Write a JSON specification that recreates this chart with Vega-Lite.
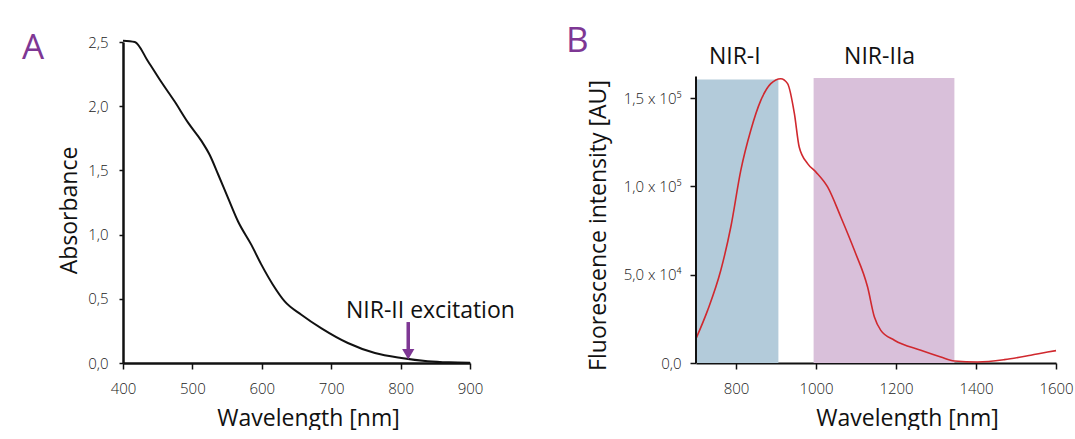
{
  "$schema": "https://vega.github.io/schema/vega-lite/v6.json",
  "padding": {"left": 22, "top": 24, "right": 0, "bottom": 0},
  "background": "white",
  "config": {
    "font": "Open Sans",
    "view": {"stroke": null},
    "axis": {"grid": false, "domainColor": "#111111", "tickColor": "#111111", "labelColor": "#222222", "titleColor": "#111111", "labelFont": "Open Sans", "titleFont": "Open Sans", "labelFontSize": 15, "titleFontSize": 23, "titleFontWeight": "normal", "labelFontWeight": 300}
  },
  "datasets": {
    "absorbance": [
      {"wl": 400, "abs": 2.51}, {"wl": 417, "abs": 2.5}, {"wl": 436, "abs": 2.35}, {"wl": 455, "abs": 2.19},
      {"wl": 474, "abs": 2.04}, {"wl": 494, "abs": 1.87}, {"wl": 513, "abs": 1.73}, {"wl": 525, "abs": 1.62},
      {"wl": 537, "abs": 1.47}, {"wl": 551, "abs": 1.29}, {"wl": 566, "abs": 1.1}, {"wl": 585, "abs": 0.92},
      {"wl": 599, "abs": 0.77}, {"wl": 616, "abs": 0.61}, {"wl": 633, "abs": 0.48}, {"wl": 657, "abs": 0.376},
      {"wl": 686, "abs": 0.27}, {"wl": 724, "abs": 0.156}, {"wl": 763, "abs": 0.078}, {"wl": 801, "abs": 0.039},
      {"wl": 839, "abs": 0.014}, {"wl": 870, "abs": 0.005}, {"wl": 900, "abs": 0.002}
    ],
    "arrowLine": [{"wl": 811, "abs": 0.319, "abs2": 0.1}],
    "arrowHead": [{"wl": 811, "abs": 0.068}],
    "noteA": [{"wl": 843, "abs": 0.353, "label": "NIR-II excitation"}],
    "fluor": [
      {"wl": 700, "val": 13800}, {"wl": 729, "val": 29800}, {"wl": 762, "val": 52500}, {"wl": 787, "val": 77000},
      {"wl": 812, "val": 109100}, {"wl": 837, "val": 131800}, {"wl": 862, "val": 148700}, {"wl": 887, "val": 158200},
      {"wl": 912, "val": 161000}, {"wl": 929, "val": 158200}, {"wl": 946, "val": 141200}, {"wl": 958, "val": 122300},
      {"wl": 979, "val": 112900}, {"wl": 1000, "val": 108100}, {"wl": 1029, "val": 99700}, {"wl": 1062, "val": 82700},
      {"wl": 1096, "val": 63800}, {"wl": 1129, "val": 43000}, {"wl": 1146, "val": 26000}, {"wl": 1162, "val": 18500},
      {"wl": 1196, "val": 12900}, {"wl": 1262, "val": 7200}, {"wl": 1312, "val": 3400}, {"wl": 1346, "val": 1100},
      {"wl": 1404, "val": 600}, {"wl": 1471, "val": 1900}, {"wl": 1537, "val": 4400}, {"wl": 1579, "val": 6200},
      {"wl": 1600, "val": 7000}
    ],
    "bands": [
      {"region": "NIR-I", "wl": 700, "wl2": 906, "val": 160600},
      {"region": "NIR-IIa", "wl": 994, "wl2": 1346, "val": 161400}
    ],
    "bandLabels": [
      {"region": "NIR-I", "wl": 797, "val": 169500},
      {"region": "NIR-IIa", "wl": 1159, "val": 169500}
    ],
    "yAxisLine": [{"wl": 700, "val": 0, "val2": 162300}]
  },
  "bounds": "flush",
  "spacing": 226,
  "hconcat": [
    {
      "width": 347,
      "height": 321,
      "title": {"text": "A", "anchor": "start", "frame": "group", "dx": -101, "fontSize": 35, "fontWeight": "normal", "font": "Open Sans", "color": "#7E3794", "baseline": "alphabetic", "offset": 0, "dy": 59},
      "encoding": {
        "x": {"field": "wl", "type": "quantitative", "scale": {"domain": [400, 900], "nice": false, "zero": false},
          "axis": {"title": "Wavelength [nm]", "values": [400, 500, 600, 700, 800, 900], "format": "d", "tickSize": 6, "tickWidth": 1.5, "domainWidth": 2.5, "labelPadding": 12, "labelFlush": false, "labelOverlap": false, "titleX": 185, "titlePadding": 11}},
        "y": {"field": "abs", "type": "quantitative", "scale": {"domain": [0, 2.5], "nice": false},
          "axis": {"title": "Absorbance", "values": [0, 0.5, 1, 1.5, 2, 2.5], "tickSize": 4, "tickWidth": 1.5, "domainWidth": 2.5, "labelPadding": 11, "labelExpr": "replace(format(datum.value, '.1f'), '.', ',')", "titleY": 168, "titlePadding": 6}}
      },
      "layer": [
        {"data": {"name": "absorbance"}, "mark": {"type": "line", "color": "#111111", "strokeWidth": 2, "interpolate": "monotone"}},
        {"data": {"name": "arrowLine"}, "mark": {"type": "rule", "color": "#7E3794", "strokeWidth": 3.5}, "encoding": {"y2": {"field": "abs2"}}},
        {"data": {"name": "arrowHead"}, "mark": {"type": "point", "shape": "triangle-down", "filled": true, "size": 150, "color": "#7E3794", "opacity": 1}},
        {"data": {"name": "noteA"}, "mark": {"type": "text", "fontSize": 23, "font": "Open Sans", "color": "#111111", "align": "center", "baseline": "alphabetic"}, "encoding": {"text": {"field": "label"}}}
      ]
    },
    {
      "width": 360,
      "height": 321,
      "title": {"text": "B", "anchor": "start", "frame": "group", "dx": -130, "fontSize": 35, "fontWeight": "normal", "font": "Open Sans", "color": "#7E3794", "baseline": "alphabetic", "offset": 0, "dy": 45},
      "encoding": {
        "x": {"field": "wl", "type": "quantitative", "scale": {"domain": [700, 1600], "nice": false, "zero": false},
          "axis": {"title": "Wavelength [nm]", "values": [800, 1000, 1200, 1400, 1600], "format": "d", "tickSize": 6, "tickWidth": 1.5, "domainWidth": 2, "labelPadding": 12, "labelFlush": false, "labelOverlap": false, "titleX": 211, "titlePadding": 11}},
        "y": {"field": "val", "type": "quantitative", "scale": {"domain": [0, 181770], "nice": false},
          "axis": {"title": "Fluorescence intensity [AU]", "values": [0, 50000, 100000, 150000], "domain": false, "tickSize": 6, "tickWidth": 1.5, "labelPadding": 9, "labelExpr": "datum.value == 0 ? '0,0' : datum.value == 50000 ? '5,0 x 10⁴' : datum.value == 100000 ? '1,0 x 10⁵' : '1,5 x 10⁵'", "titleY": 183, "titlePadding": 13}}
      },
      "layer": [
        {"data": {"name": "bands"}, "mark": {"type": "rect", "opacity": 1},
          "encoding": {"x2": {"field": "wl2"}, "y2": {"datum": 0},
            "color": {"field": "region", "type": "nominal", "scale": {"domain": ["NIR-I", "NIR-IIa"], "range": ["#B3CBDA", "#D9C0DA"]}, "legend": null}}},
        {"data": {"name": "fluor"}, "mark": {"type": "line", "color": "#D0282E", "strokeWidth": 1.6, "interpolate": "monotone"}},
        {"data": {"name": "yAxisLine"}, "mark": {"type": "rule", "color": "#111111", "strokeWidth": 2}, "encoding": {"y2": {"field": "val2"}}},
        {"data": {"name": "bandLabels"}, "mark": {"type": "text", "fontSize": 23, "font": "Open Sans", "color": "#111111", "align": "center", "baseline": "alphabetic"}, "encoding": {"text": {"field": "region"}}}
      ]
    }
  ]
}
